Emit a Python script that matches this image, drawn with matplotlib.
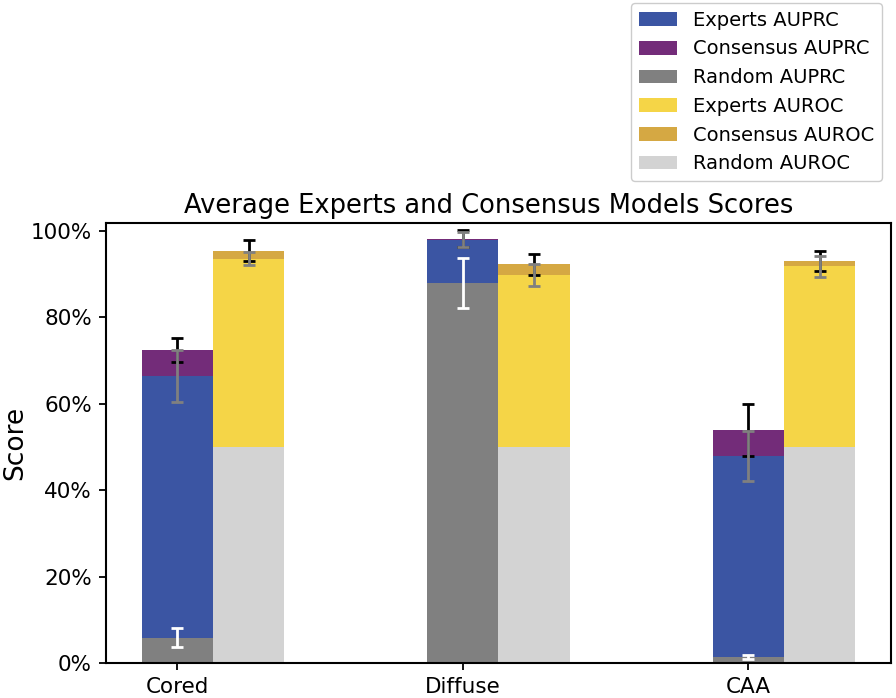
import numpy as np
import matplotlib
matplotlib.use("Agg")
import matplotlib.pyplot as plt
from matplotlib.ticker import PercentFormatter

categories = ['Cored', 'Diffuse', 'CAA']

experts_auprc = [66.5, 98.0, 47.9]
experts_auprc_err = [6.0, 1.8, 5.8]
consensus_auprc = [72.4, 98.2, 53.9]
consensus_auprc_err = [2.8, 2.0, 6.0]
random_auprc = [5.9, 87.9, 1.4]
random_auprc_err = [2.2, 5.8, 0.5]

experts_auroc = [93.6, 89.8, 91.8]
experts_auroc_err = [1.6, 2.6, 2.5]
consensus_auroc = [95.4, 92.3, 93.1]
consensus_auroc_err = [2.4, 2.4, 2.3]
random_auroc = [50, 50, 50]

c_exp_prc = '#3b55a3'
c_con_prc = '#732c79'
c_rnd_prc = '#808080'
c_exp_roc = '#f5d547'
c_con_roc = '#d5a843'
c_rnd_roc = '#d3d3d3'

x = np.arange(len(categories))
w = 0.25

fig = plt.figure(figsize=(8.96, 6.98), dpi=100)
ax = fig.add_axes([0.1183, 0.0501, 0.8761, 0.6309])

# AUPRC bars (overlaid, tallest behind)
ax.bar(x, consensus_auprc, w, color=c_con_prc, label='Consensus AUPRC')
ax.bar(x, experts_auprc, w, color=c_exp_prc, label='Experts AUPRC')
ax.bar(x, random_auprc, w, color=c_rnd_prc, label='Random AUPRC')

# AUROC bars
ax.bar(x + w, consensus_auroc, w, color=c_con_roc, label='Consensus AUROC')
ax.bar(x + w, experts_auroc, w, color=c_exp_roc, label='Experts AUROC')
ax.bar(x + w, random_auroc, w, color=c_rnd_roc, label='Random AUROC')

ek = dict(fmt='none', capsize=4.5, elinewidth=2, capthick=2, zorder=5)
ax.errorbar(x, consensus_auprc, yerr=consensus_auprc_err, ecolor='black', **ek)
ax.errorbar(x + w, consensus_auroc, yerr=consensus_auroc_err, ecolor='black', **ek)
ax.errorbar(x, experts_auprc, yerr=experts_auprc_err, ecolor='#808080', **ek)
ax.errorbar(x + w, experts_auroc, yerr=experts_auroc_err, ecolor='#808080', **ek)
ax.errorbar(x, random_auprc, yerr=random_auprc_err, ecolor='white', **ek)

ax.set_xlim(-0.25, 2.5)
ax.set_ylim(0, 101.9)
ax.set_xticks(x)
ax.set_xticklabels(categories)
ax.set_yticks([0, 20, 40, 60, 80, 100])
ax.yaxis.set_major_formatter(PercentFormatter(100, decimals=0))
ax.tick_params(labelsize=15.5, length=5, width=1.3, pad=5)
ax.set_ylabel('Score', fontsize=19, labelpad=2)
ax.set_title('Average Experts and Consensus Models Scores', fontsize=18.5,
             pad=7, x=0.487)
for s in ax.spines.values():
    s.set_linewidth(1.5)

handles, labels = ax.get_legend_handles_labels()
order = ['Experts AUPRC', 'Consensus AUPRC', 'Random AUPRC',
         'Experts AUROC', 'Consensus AUROC', 'Random AUROC']
hmap = dict(zip(labels, handles))
fig.legend([hmap[l] for l in order], order, loc='upper right',
           bbox_to_anchor=(882 / 896, 1 - 3 / 698), borderaxespad=0,
           fontsize=14, framealpha=1, labelspacing=0.5)

fig.savefig('out.png', dpi=100)
